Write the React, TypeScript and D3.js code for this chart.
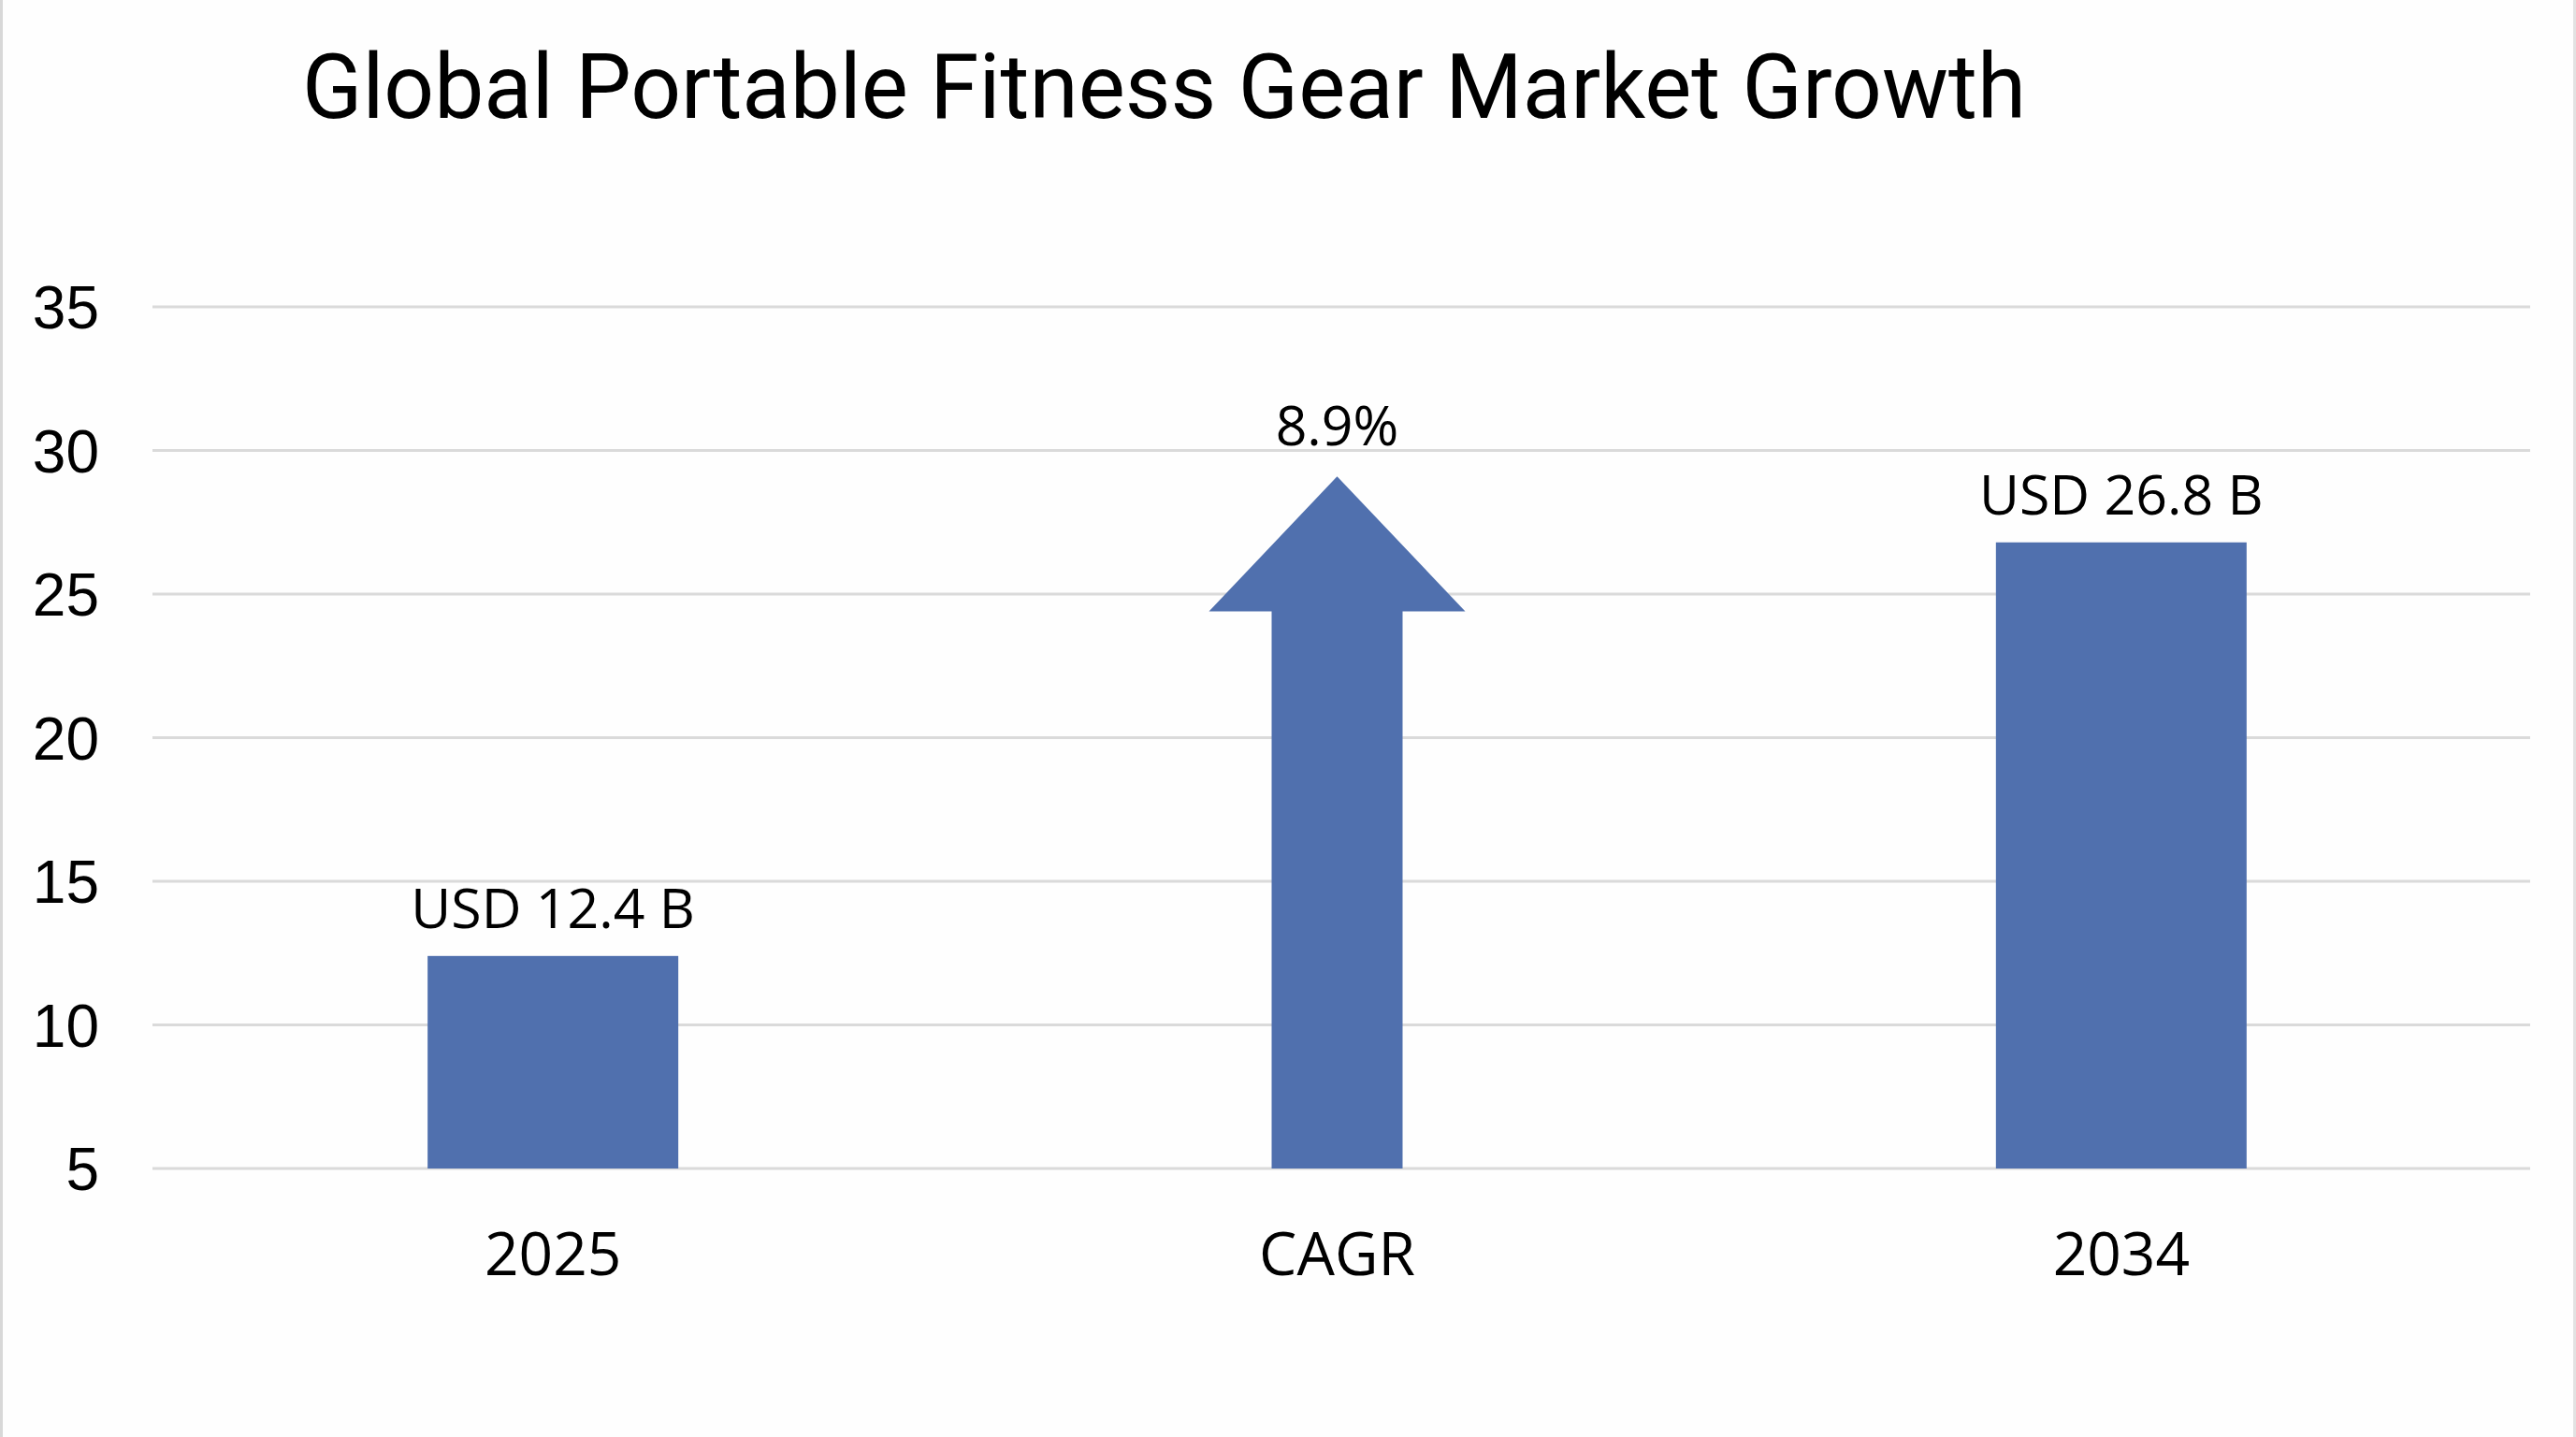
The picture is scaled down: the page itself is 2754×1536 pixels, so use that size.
import React from "react";
import * as d3 from "d3";

// Chart data
const categories = ["2025", "CAGR", "2034"];
const marketYears = ["2025", "2034"];
const marketValues = [12.4, 26.8]; // USD billions
const marketLabels = ["USD 12.4 B", "USD 26.8 B"];
const cagrCategory = "CAGR";
const cagrLabel = "8.9%";
// Growth arrow extent on the value axis: tip and shoulder of the head
const arrowTipValue = 29.1;
const arrowShoulderValue = 24.4;
const yTicks = [5, 10, 15, 20, 25, 30, 35];
const title = "Global Portable Fitness Gear Market Growth";

const WIDTH = 2754;
const HEIGHT = 1536;
const BAR_COLOR = "#5070ae";
const GRID_COLOR = "#dadada";

export default function App() {
  const y = d3.scaleLinear().domain([5, 35]).range([1249, 328]);
  const x = d3.scalePoint<string>().domain(categories).range([172, 2687]).padding(0.5);

  const barWidth = 268;
  const shaftHalf = 70;
  const headHalf = 137;

  const cx = x(cagrCategory)!;
  const base = y(5);
  const arrowPath = d3.path();
  arrowPath.moveTo(cx - shaftHalf, base);
  arrowPath.lineTo(cx - shaftHalf, y(arrowShoulderValue));
  arrowPath.lineTo(cx - headHalf, y(arrowShoulderValue));
  arrowPath.lineTo(cx, y(arrowTipValue));
  arrowPath.lineTo(cx + headHalf, y(arrowShoulderValue));
  arrowPath.lineTo(cx + shaftHalf, y(arrowShoulderValue));
  arrowPath.lineTo(cx + shaftHalf, base);
  arrowPath.closePath();

  const labelFont = "'Open Sans', 'Noto Sans', sans-serif";

  return (
    <svg
      width={WIDTH}
      height={HEIGHT}
      style={{ position: "absolute", left: 0, top: 0, background: "#ffffff" }}
    >
      <rect x={0} y={0} width={WIDTH} height={HEIGHT} fill="#fefefe" />
      <rect x={0} y={0} width={3} height={HEIGHT} fill="#d8d8d8" />
      <rect x={WIDTH - 3} y={0} width={3} height={HEIGHT} fill="#e2e2e2" />

      <text
        x={323}
        y={126}
        fontFamily="Roboto, 'Liberation Sans', sans-serif"
        fontSize={96}
        textLength={1843}
        lengthAdjust="spacingAndGlyphs"
        fill="#000"
      >
        {title}
      </text>

      {/* gridlines and y tick labels */}
      {yTicks.map((t) => (
        <g key={t}>
          <line x1={163} x2={2705} y1={y(t)} y2={y(t)} stroke={GRID_COLOR} strokeWidth={3} />
          <text
            x={106}
            y={y(t)}
            dy="0.36em"
            textAnchor="end"
            fontFamily="'Liberation Sans', Arial, sans-serif"
            fontSize={64}
            fill="#000"
          >
            {t}
          </text>
        </g>
      ))}

      {/* market size bars */}
      {marketYears.map((yr, i) => (
        <g key={yr}>
          <rect
            x={x(yr)! - barWidth / 2}
            y={y(marketValues[i])}
            width={barWidth}
            height={base - y(marketValues[i])}
            fill={BAR_COLOR}
          />
          <text
            x={x(yr)!}
            y={y(marketValues[i]) - 30}
            textAnchor="middle"
            fontFamily={labelFont}
            fontSize={59}
            fill="#000"
          >
            {marketLabels[i]}
          </text>
        </g>
      ))}

      {/* CAGR arrow */}
      <path d={arrowPath.toString()} fill={BAR_COLOR} />
      <text
        x={cx}
        y={y(arrowTipValue) - 33}
        textAnchor="middle"
        fontFamily={labelFont}
        fontSize={59}
        fill="#000"
      >
        {cagrLabel}
      </text>

      {/* category labels */}
      {categories.map((c) => (
        <text
          key={c}
          x={x(c)!}
          y={1363}
          textAnchor="middle"
          fontFamily={labelFont}
          fontSize={64}
          fill="#000"
        >
          {c}
        </text>
      ))}
    </svg>
  );
}
